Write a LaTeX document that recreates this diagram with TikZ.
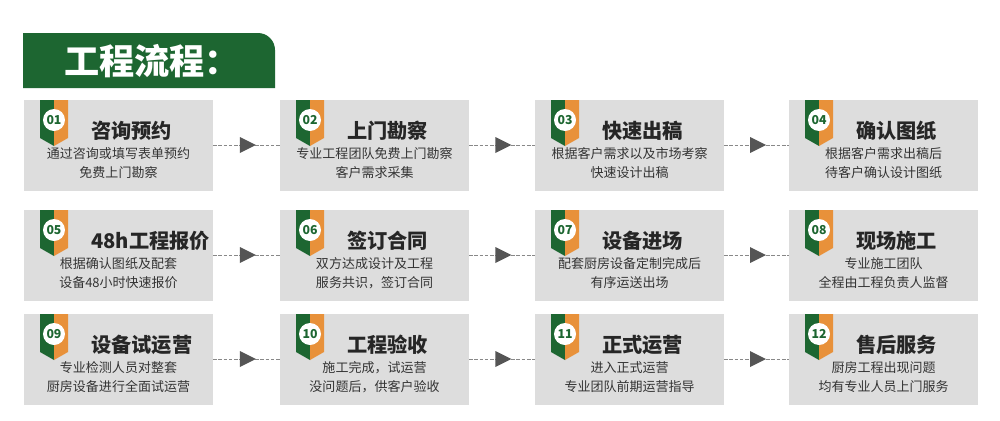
\documentclass[tikz,border=0pt]{standalone}
\usepackage{fontspec}
\setmainfont{Noto Sans CJK SC}
\usetikzlibrary{positioning,calc}
\definecolor{bangreen}{HTML}{1D6631}
\definecolor{badgeorange}{HTML}{E8913A}
\definecolor{boxgray}{HTML}{DDDDDD}
\definecolor{arrowgray}{HTML}{555555}
\tikzset{
  stepbg/.style={fill=boxgray, draw=none},
  headtext/.style={anchor=west, font=\fontsize{11.5}{13}\selectfont\bfseries, text=black!85},
  bodytext/.style={align=center, font=\fontsize{7.4}{10.6}\selectfont, text=black!80},
  numtext/.style={circle, fill=white, inner sep=0pt, minimum size=0.44cm, font=\fontsize{7}{7}\selectfont\bfseries, text=bangreen},
  flowline/.style={arrowgray!70, dashed, dash pattern=on 2pt off 1pt, line width=0.4pt},
}
\newcommand{\stepbox}[6]{% name, x, y, number, heading, body
  \fill[stepbg] (#2,#3) rectangle ++(189,90.5);
  \fill[bangreen] (#2+16,#3) -- (#2+30,#3) -- (#2+30,#3+46) -- (#2+16,#3+38) -- cycle;
  \fill[badgeorange] (#2+30,#3) -- (#2+44,#3) -- (#2+44,#3+38) -- (#2+30,#3+46) -- cycle;
  \node[numtext] (#1n) at (#2+30,#3+20) {#4};
  \node[headtext] (#1h) at (#2+61,#3+31) {#5};
  \node[bodytext] (#1) at (#2+94.5,#3+63) {#6};
  \coordinate (#1w) at (#2,#3+45);
  \coordinate (#1e) at (#2+189,#3+45);
}
\begin{document}
\begin{tikzpicture}[x=0.02cm,y=-0.02cm]
  \useasboundingbox (0,0) rectangle (1000,420);
  \fill[white] (0,0) rectangle (1000,420);

  % title banner
  \fill[bangreen] (23,88) -- (23,33) [rounded corners=0.34cm] -- (275,33) [sharp corners] -- (275,88) -- cycle;
  \node[text=white, font=\fontsize{20}{22}\selectfont\bfseries, anchor=west] (title) at (58,61) {工程流程：};

  % row 1
  \stepbox{s1}{24}{100}{01}{咨询预约}{通过咨询或填写表单预约\\免费上门勘察}
  \stepbox{s2}{280}{100}{02}{上门勘察}{专业工程团队免费上门勘察\\客户需求采集}
  \stepbox{s3}{535}{100}{03}{快速出稿}{根据客户需求以及市场考察\\快速设计出稿}
  \stepbox{s4}{789}{100}{04}{确认图纸}{根据客户需求出稿后\\待客户确认设计图纸}
  % row 2
  \stepbox{s5}{24}{210}{05}{48h工程报价}{根据确认图纸及配套\\设备48小时快速报价}
  \stepbox{s6}{280}{210}{06}{签订合同}{双方达成设计及工程\\服务共识，签订合同}
  \stepbox{s7}{535}{210}{07}{设备进场}{配套厨房设备定制完成后\\有序运送出场}
  \stepbox{s8}{789}{210}{08}{现场施工}{专业施工团队\\全程由工程负责人监督}
  % row 3
  \stepbox{s9}{24}{314}{09}{设备试运营}{专业检测人员对整套\\厨房设备进行全面试运营}
  \stepbox{s10}{280}{314}{10}{工程验收}{施工完成，试运营\\没问题后，供客户验收}
  \stepbox{s11}{535}{314}{11}{正式运营}{进入正式运营\\专业团队前期运营指导}
  \stepbox{s12}{789}{314}{12}{售后服务}{厨房工程出现问题\\均有专业人员上门服务}

  % connectors
  \foreach \a/\b in {s1/s2,s2/s3,s3/s4,s5/s6,s6/s7,s7/s8,s9/s10,s10/s11,s11/s12}
  {
    \draw[flowline] (\a e) -- (\b w);
    \fill[arrowgray] ($(\a e)!0.4!(\b w)+(0,-8)$) -- ($(\a e)!0.4!(\b w)+(0,8)$) -- ($(\a e)!0.4!(\b w)+(16,0)$) -- cycle;
  }
\end{tikzpicture}
\end{document}
